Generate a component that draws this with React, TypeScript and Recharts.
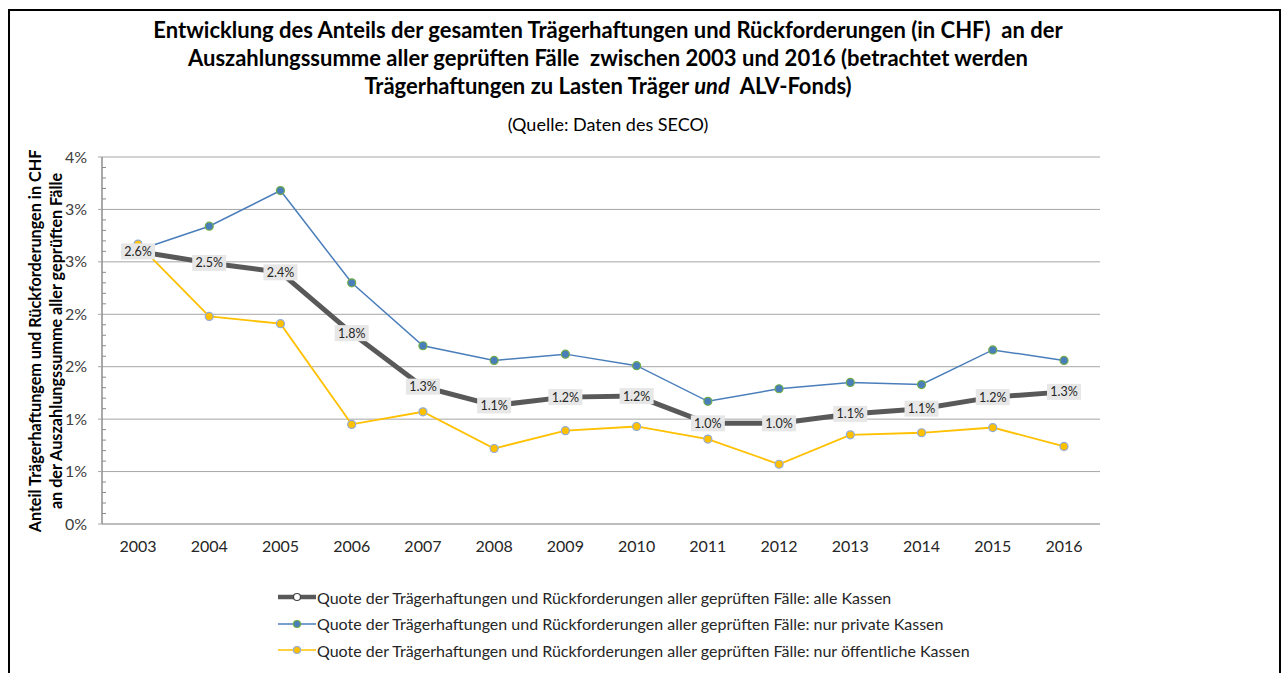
import React from 'react';
import { LineChart, Line, XAxis, YAxis, CartesianGrid, LabelList } from 'recharts';

const years = ['2003', '2004', '2005', '2006', '2007', '2008', '2009', '2010', '2011', '2012', '2013', '2014', '2015', '2016'];
const alleKassen = [2.6, 2.49, 2.4, 1.82, 1.31, 1.13, 1.21, 1.22, 0.96, 0.96, 1.05, 1.1, 1.21, 1.26];
const privateKassen = [2.61, 2.84, 3.18, 2.3, 1.7, 1.56, 1.62, 1.51, 1.17, 1.29, 1.35, 1.33, 1.66, 1.56];
const oeffentlicheKassen = [2.67, 1.98, 1.91, 0.95, 1.07, 0.72, 0.89, 0.93, 0.81, 0.57, 0.85, 0.87, 0.92, 0.74];
const alleLabels = ['2.6%', '2.5%', '2.4%', '1.8%', '1.3%', '1.1%', '1.2%', '1.2%', '1.0%', '1.0%', '1.1%', '1.1%', '1.2%', '1.3%'];

const majorTicks = [0, 0.5, 1, 1.5, 2, 2.5, 3, 3.5];
const allTicks = [
  0, 0.1, 0.2, 0.3, 0.4, 0.5, 0.6, 0.7, 0.8, 0.9, 1, 1.1, 1.2, 1.3, 1.4, 1.5, 1.6, 1.7,
  1.8, 1.9, 2, 2.1, 2.2, 2.3, 2.4, 2.5, 2.6, 2.7, 2.8, 2.9, 3, 3.1, 3.2, 3.3, 3.4, 3.5,
];

const seriesNames = [
  'Quote der Trägerhaftungen und Rückforderungen aller geprüften Fälle: alle Kassen',
  'Quote der Trägerhaftungen und Rückforderungen aller geprüften Fälle: nur private Kassen',
  'Quote der Trägerhaftungen und Rückforderungen aller geprüften Fälle: nur öffentliche Kassen',
];

const data = years.map((year, i) => ({
  year,
  alle: alleKassen[i],
  privat: privateKassen[i],
  oeffentlich: oeffentlicheKassen[i],
  label: alleLabels[i],
}));

const FONT = 'Lato, "Open Sans", sans-serif';
const DARK = '#595959';
const BLUE = '#4a7ebb';
const YELLOW = '#ffc000';

// y axis: labels only on the half-percent ticks, short inner marks on the others
const YTick = (props: any) => {
  const { x, y, payload } = props;
  const v = payload.value;
  const isMajor = Math.abs(v * 2 - Math.round(v * 2)) < 1e-6;
  if (isMajor) {
    return (
      <g>
        <line x1={x - 4} x2={x} y1={y} y2={y} stroke="#a6a6a6" strokeWidth={1} />
        <text x={x - 15} y={y} dy={5.5} textAnchor="end" fontSize={16} fill="#404040" fontFamily={FONT}>
          {`${Math.round(v)}%`}
        </text>
      </g>
    );
  }
  return <line x1={x} x2={x + 4} y1={y} y2={y} stroke="#8c8c8c" strokeWidth={1} />;
};

const DarkLabel = (props: any) => {
  const { x, y, value } = props;
  return (
    <g>
      <rect x={x - 17} y={y - 8} width={34} height={16} fill="#e7e7e7" />
      <text x={x} y={y} dy={4.5} textAnchor="middle" fontSize={12.5} fill="#262626" fontFamily={FONT}>
        {value}
      </text>
    </g>
  );
};

const LegendIcon = ({ color, width, fill, stroke }: any) => (
  <svg width={38} height={12} style={{ marginRight: 1 }}>
    <line x1={0} x2={38} y1={6} y2={6} stroke={color} strokeWidth={width} />
    <circle cx={19} cy={6} r={3.5} fill={fill} stroke={stroke} strokeWidth={1.2} />
  </svg>
);

export default function App() {
  const legendItems = [
    { name: seriesNames[0], color: DARK, width: 4.5, fill: '#ffffff', stroke: '#404040' },
    { name: seriesNames[1], color: BLUE, width: 1.5, fill: BLUE, stroke: '#70ad47' },
    { name: seriesNames[2], color: YELLOW, width: 1.5, fill: YELLOW, stroke: '#8faadc' },
  ];
  return (
    <div style={{ position: 'absolute', left: 0, top: 0, width: 1287, height: 673, overflow: 'hidden', background: '#fff', fontFamily: FONT }}>
      <div
        style={{
          position: 'absolute',
          left: 8,
          top: 9,
          width: 1273,
          height: 700,
          border: '2px solid #000',
          boxSizing: 'border-box',
        }}
      />
      <div
        style={{
          position: 'absolute',
          left: 0,
          top: 16,
          width: 1216,
          textAlign: 'center',
          fontWeight: 700,
          fontSize: 22,
          lineHeight: '28px',
          color: '#000',
        }}
      >
        Entwicklung des Anteils der gesamten Trägerhaftungen und Rückforderungen (in CHF)&nbsp; an der
        <br />
        Auszahlungssumme aller geprüften Fälle&nbsp; zwischen 2003 und 2016 (betrachtet werden
        <br />
        Trägerhaftungen zu Lasten Träger <i>und</i>&nbsp; ALV-Fonds)
      </div>
      <div
        style={{ position: 'absolute', left: 0, top: 113, width: 1216, textAlign: 'center', fontSize: 18, lineHeight: '22px', color: '#000' }}
      >
        (Quelle: Daten des SECO)
      </div>
      <div
        style={{
          position: 'absolute',
          left: 45,
          top: 341,
          width: 500,
          transform: 'translate(-50%, -50%) rotate(-90deg)',
          textAlign: 'center',
          fontWeight: 700,
          fontSize: 16.2,
          lineHeight: '21px',
          color: '#000',
          whiteSpace: 'nowrap',
        }}
      >
        Anteil Trägerhaftungem und Rückforderungen in CHF
        <br />
        an der Auszahlungssumme aller geprüften Fälle
      </div>
      <div style={{ position: 'absolute', left: 0, top: 0 }}>
        <LineChart width={1287} height={673} data={data} margin={{ top: 157, right: 187, bottom: 119, left: 42 }}>
          <CartesianGrid vertical={false} horizontalValues={majorTicks} stroke="#a6a6a6" strokeWidth={1} />
          <XAxis
            dataKey="year"
            padding={{ left: 36, right: 36 }}
            tickLine={false}
            tickSize={0}
            tickMargin={17}
            height={30}
            axisLine={{ stroke: '#a6a6a6' }}
            tick={{ fontSize: 16, fill: '#262626', fontFamily: FONT }}
            interval={0}
          />
          <YAxis
            domain={[0, 3.5]}
            ticks={allTicks}
            interval={0}
            width={60}
            tickLine={false}
            tickSize={0}
            tickMargin={0}
            axisLine={{ stroke: '#8c8c8c', strokeWidth: 1.5 }}
            tick={<YTick />}
          />
          <Line dataKey="alle" stroke={DARK} strokeWidth={5} dot={false} isAnimationActive={false} />
          <Line
            dataKey="privat"
            stroke={BLUE}
            strokeWidth={1.5}
            dot={{ r: 4, fill: BLUE, stroke: '#70ad47', strokeWidth: 1.2 }}
            isAnimationActive={false}
          />
          <Line
            dataKey="oeffentlich"
            stroke={YELLOW}
            strokeWidth={1.8}
            dot={{ r: 4, fill: YELLOW, stroke: '#8faadc', strokeWidth: 1.2 }}
            isAnimationActive={false}
          />
          {/* labels of the dark series drawn last so they sit on top */}
          <Line dataKey="alle" stroke="none" dot={false} activeDot={false} isAnimationActive={false}>
            <LabelList dataKey="label" content={<DarkLabel />} />
          </Line>
        </LineChart>
      </div>
      <div style={{ position: 'absolute', left: 278, top: 584, fontSize: 16, color: '#262626' }}>
        {legendItems.map((item) => (
          <div key={item.name} style={{ display: 'flex', alignItems: 'center', height: 26.5 }}>
            <LegendIcon color={item.color} width={item.width} fill={item.fill} stroke={item.stroke} />
            <span>{item.name}</span>
          </div>
        ))}
      </div>
    </div>
  );
}
